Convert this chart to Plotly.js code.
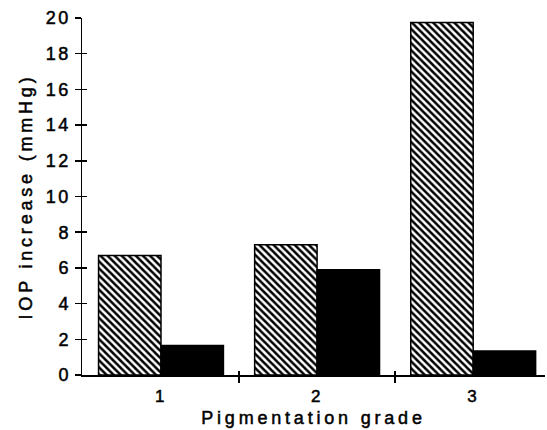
<!DOCTYPE html>
<html>
<head>
<meta charset="utf-8">
<script src="https://cdn.plot.ly/plotly-3.0.1.min.js"></script>
<style>
html,body{margin:0;padding:0;background:#fff;}
#chart{width:547px;height:430px;}
.xtitle,.ytitle{letter-spacing:3.8px;stroke:#000;stroke-width:0.5px;}
.ytick text,.xtick text{letter-spacing:2.5px;stroke:#000;stroke-width:0.5px;}
</style>
</head>
<body>
<div id="chart"></div>
<script>
var grades = [1, 2, 3];
var gradeLabels = ['1', '2', '3'];
var hatchedValues = [6.7, 7.3, 19.75];
var solidValues = [1.65, 5.9, 1.35];
var yTicks = [0, 2, 4, 6, 8, 10, 12, 14, 16, 18, 20];
var gradeBoundaries = [1.5, 2.5];

var fam = 'Liberation Sans, Arial, sans-serif';

var traces = [
  {
    type: 'bar', x: grades, y: hatchedValues, name: 'hatched',
    marker: {
      color: '#fff',
      pattern: {shape: '\\', fgcolor: '#000', bgcolor: '#fff', size: 5, solidity: 0.5},
      line: {color: '#000', width: 1.5}
    },
    hoverinfo: 'none'
  },
  {
    type: 'bar', x: grades, y: solidValues, name: 'solid',
    marker: {color: '#000', line: {color: '#000', width: 1.5}},
    hoverinfo: 'none'
  },
  {
    type: 'scatter', mode: 'markers', x: [null], y: [null], xaxis: 'x2', yaxis: 'y2',
    hoverinfo: 'none', showlegend: false
  }
];

var layout = {
  width: 547, height: 430,
  margin: {l: 82, r: 2, t: 18, b: 55},
  paper_bgcolor: '#fff', plot_bgcolor: '#fff',
  showlegend: false,
  barmode: 'group', bargap: 0.2, bargroupgap: 0,
  font: {family: fam, size: 17, color: '#000'},
  xaxis: {
    type: 'linear', range: [0.494, 3.46],
    tickvals: grades, ticktext: gradeLabels,
    ticks: '', showgrid: false, zeroline: false,
    showline: true, linecolor: '#000', linewidth: 1.5,
    tickfont: {family: fam, size: 17, color: '#000'},
    ticklabelstandoff: 5,
    minor: {tickvals: gradeBoundaries, ticks: 'outside', ticklen: 6, tickwidth: 1.5, tickcolor: '#000', showgrid: false},
    title: {text: 'Pigmentation grade', font: {family: fam, size: 18, color: '#000'}, standoff: 6}
  },
  yaxis: {
    range: [0, 20], tickvals: yTicks,
    ticks: 'outside', ticklen: 6, tickwidth: 1.5, tickcolor: '#000',
    showgrid: false, zeroline: false,
    showline: true, linecolor: '#000', linewidth: 1.5,
    tickfont: {family: fam, size: 18, color: '#000'},
    title: {text: 'IOP increase (mmHg)', font: {family: fam, size: 18, color: '#000'}, standoff: 8}
  },
  yaxis2: {
    overlaying: 'y', side: 'left', range: [0, 20], tickvals: yTicks,
    ticks: 'inside', ticklen: 5, tickwidth: 1.5, tickcolor: '#000',
    showticklabels: false, showgrid: false, zeroline: false, showline: false
  },
  xaxis2: {
    overlaying: 'x', side: 'bottom', range: [0.494, 3.46], tickvals: gradeBoundaries,
    ticks: 'inside', ticklen: 4, tickwidth: 1.5, tickcolor: '#000',
    showticklabels: false, showgrid: false, zeroline: false, showline: false
  }
};

Plotly.newPlot('chart', traces, layout, {displayModeBar: false, staticPlot: true});
</script>
</body>
</html>
